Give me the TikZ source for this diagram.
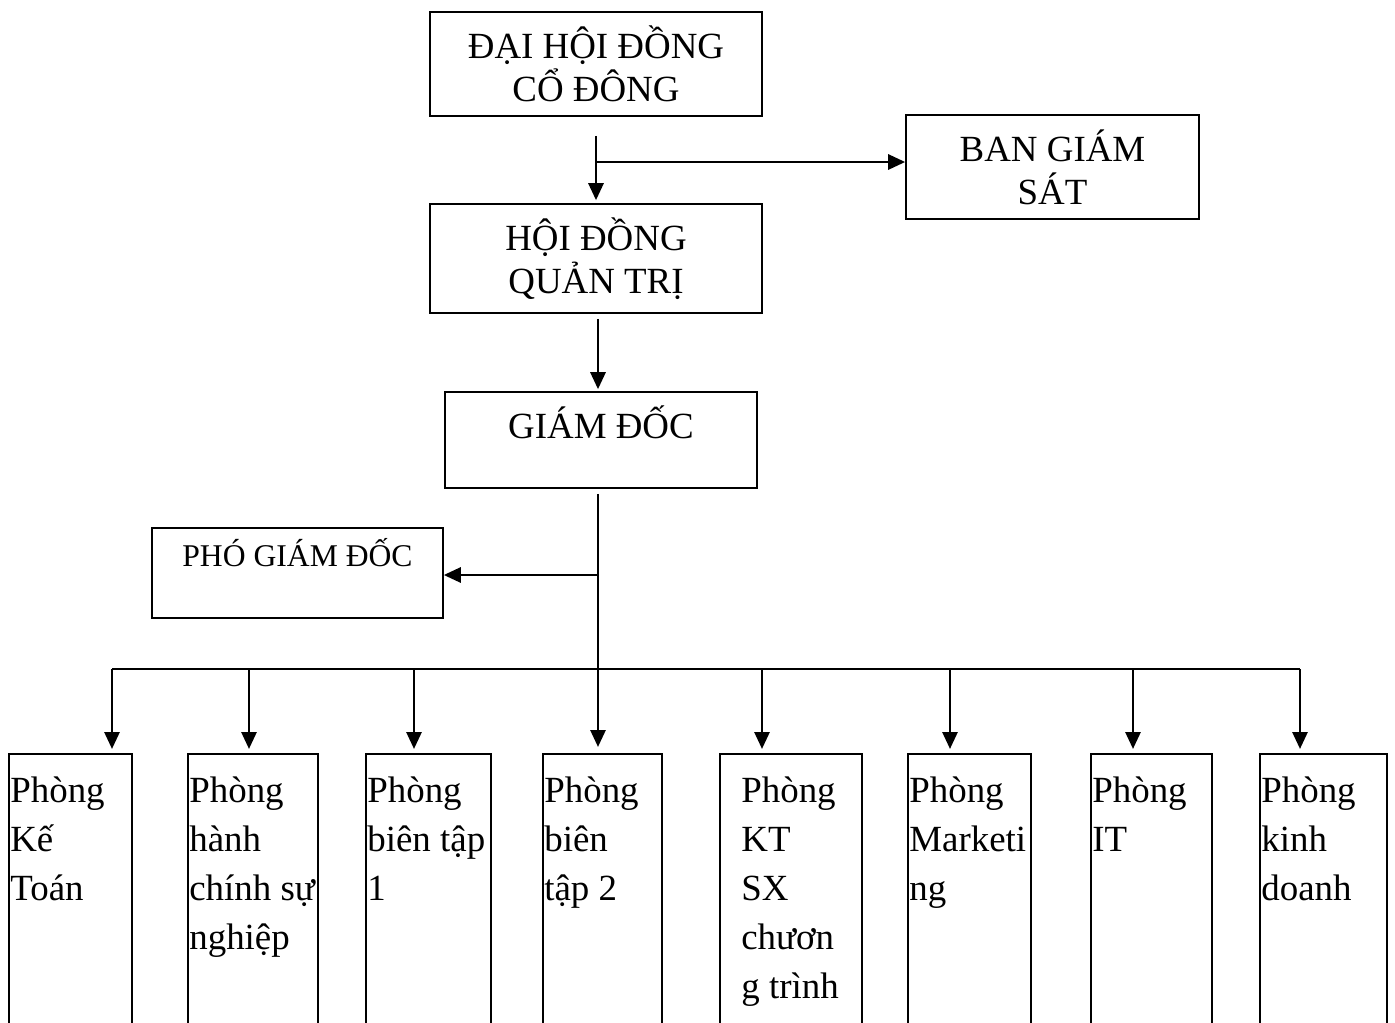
\documentclass[tikz,border=0pt]{standalone}
\usepackage{fontspec}
\setmainfont{Liberation Serif}
\usetikzlibrary{positioning, arrows.meta, calc}

\begin{document}
\begin{tikzpicture}[
    % kiểu chung
    box/.style={rectangle, draw=black, line width=0.9pt, font=\fontsize{21}{24.4}\selectfont},
    room/.style={rectangle, draw=black, line width=0.9pt, minimum height=5.6cm, anchor=north west, inner sep=0pt},
    roomtext/.style={anchor=north west, align=left, inner ysep=0.47cm, inner xsep=0.04cm, font=\fontsize{21}{27.9}\selectfont},
    % kiểu mũi tên
    myarrow/.style={-{Triangle[length=0.34cm, width=0.3cm]}, line width=1.6pt, draw=black},
    busline/.style={line width=1.6pt, draw=black}
]

\useasboundingbox (0,0) rectangle (27.9,-20.46);
\clip (0,0) rectangle (27.9,-20.46);

% ====================
% cấp trên
% ====================
\node[box, align=center, minimum width=6.64cm, minimum height=2.08cm] (daihoi) at (11.92,-1.28) {ĐẠI HỘI ĐỒNG\\CỔ ĐÔNG};
\node[box, align=center, minimum width=5.86cm, minimum height=2.08cm] (bangs) at (21.05,-3.34) {BAN GIÁM\\SÁT};
\node[box, align=center, minimum width=6.64cm, minimum height=2.18cm] (hdqt) at (11.92,-5.17) {HỘI ĐỒNG\\QUẢN TRỊ};
\node[box, minimum width=6.24cm, minimum height=1.92cm, text height=0.6cm, text depth=0.68cm] (giamdoc) at (12.02,-8.8) {GIÁM ĐỐC};
\node[box, font=\fontsize{18}{21}\selectfont, minimum width=5.82cm, minimum height=1.8cm, text height=0.5cm, text depth=0.76cm] (phogd) at (5.95,-11.46) {PHÓ GIÁM ĐỐC};

% ====================
% các phòng
% ====================
\node[room, minimum width=2.46cm] (r1) at (0.16,-15.06) {};
\node[room, minimum width=2.60cm] (r2) at (3.74,-15.06) {};
\node[room, minimum width=2.50cm] (r3) at (7.30,-15.06) {};
\node[room, minimum width=2.38cm] (r4) at (10.84,-15.06) {};
\node[room, minimum width=2.84cm] (r5) at (14.38,-15.06) {};
\node[room, minimum width=2.46cm] (r6) at (18.14,-15.06) {};
\node[room, minimum width=2.42cm] (r7) at (21.80,-15.06) {};
\node[room, minimum width=2.54cm] (r8) at (25.18,-15.06) {};

\node[roomtext] (t1) at (r1.north west) {Phòng\\Kế\\Toán};
\node[roomtext] (t2) at (r2.north west) {Phòng\\hành\\chính sự\\nghiệp};
\node[roomtext] (t3) at (r3.north west) {Phòng\\biên tập\\1};
\node[roomtext] (t4) at (r4.north west) {Phòng\\biên\\tập 2};
\node[roomtext, inner xsep=0.44cm] (t5) at (r5.north west) {Phòng\\KT\\SX\\chươn\\g trình};
\node[roomtext] (t6) at (r6.north west) {Phòng\\Marketi\\ng};
\node[roomtext] (t7) at (r7.north west) {Phòng\\IT};
\node[roomtext] (t8) at (r8.north west) {Phòng\\kinh\\doanh};

% điểm rẽ nhánh
\coordinate (j1) at (11.94,-3.24);
\coordinate (j2) at (11.96,-11.5);
\coordinate (bus1) at (2.24,-13.38);
\coordinate (bus2) at (4.98,-13.38);
\coordinate (bus3) at (8.28,-13.38);
\coordinate (bus4) at (11.96,-13.38);
\coordinate (bus5) at (15.24,-13.38);
\coordinate (bus6) at (19.00,-13.38);
\coordinate (bus7) at (22.66,-13.38);
\coordinate (bus8) at (26.00,-13.38);

% ====================
% đường nối
% ====================
\draw[myarrow] ($(daihoi.south)+(0,-0.38)$) -- ($(hdqt.north)+(0,0.06)$);
\draw[myarrow] (j1) -- (j1 -| bangs.west);
\draw[myarrow] ($(hdqt.south -| bus4)+(0,-0.1)$) -- ($(giamdoc.north -| bus4)+(0,0.04)$);
\draw[myarrow, shorten >=0.12cm] ($(giamdoc.south -| bus4)+(0,-0.1)$) -- (bus4 |- r4.north);
\draw[myarrow] (j2) -- (j2 -| phogd.east);

\draw[busline] (bus1) -- (bus8);
\draw[myarrow, shorten >=0.08cm] (bus1) -- (bus1 |- r1.north);
\draw[myarrow, shorten >=0.08cm] (bus2) -- (bus2 |- r2.north);
\draw[myarrow, shorten >=0.08cm] (bus3) -- (bus3 |- r3.north);
\draw[myarrow, shorten >=0.08cm] (bus5) -- (bus5 |- r5.north);
\draw[myarrow, shorten >=0.08cm] (bus6) -- (bus6 |- r6.north);
\draw[myarrow, shorten >=0.08cm] (bus7) -- (bus7 |- r7.north);
\draw[myarrow, shorten >=0.08cm] (bus8) -- (bus8 |- r8.north);

\end{tikzpicture}
\end{document}
